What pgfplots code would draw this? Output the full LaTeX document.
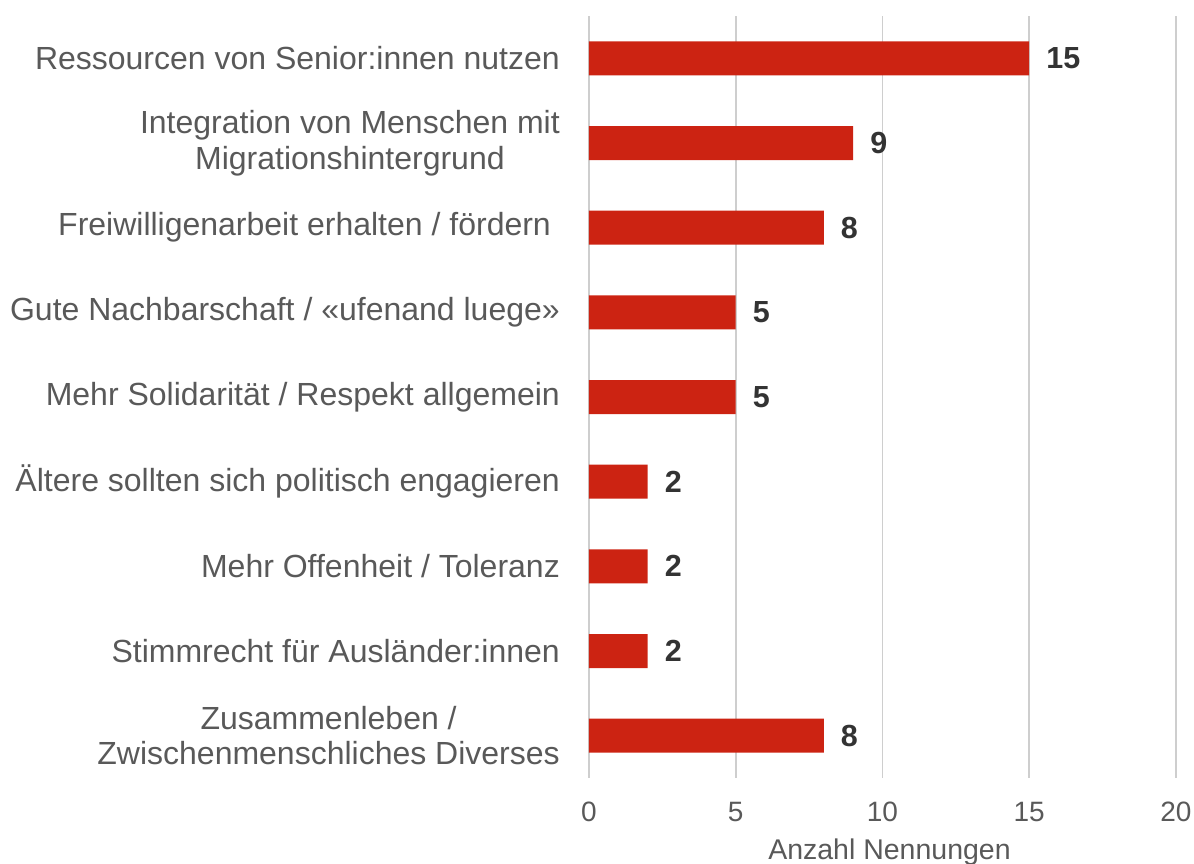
\documentclass[border=0pt]{standalone}
\usepackage{pgfplots}
\pgfplotsset{compat=1.18}
\usepackage{fontspec}
\setmainfont{Liberation Sans}
\definecolor{barred}{RGB}{204,35,18}
\definecolor{txtgray}{RGB}{89,89,89}
\definecolor{valgray}{RGB}{51,51,51}
\definecolor{gridgray}{RGB}{206,206,206}
\begin{document}
\begin{tikzpicture}
\path[use as bounding box] (-589pt,-85pt) rectangle (605pt,778pt);
\begin{axis}[
  at={(0,0)}, anchor=south west, name=ax,
  scale only axis, width=587pt, height=762pt,
  xmin=0, xmax=20, ymin=-0.5, ymax=8.5, y dir=reverse,
  xbar, bar width=34pt, bar shift=0pt,
  xtick={0,5,10,15,20}, ytick={0,...,8},
  yticklabels={
    {Ressourcen von Senior:innen nutzen},
    {Integration von Menschen mit\\Migrationshintergrund},
    {Freiwilligenarbeit erhalten / fördern\ },
    {Gute Nachbarschaft / «ufenand luege»},
    {Mehr Solidarität / Respekt allgemein},
    {Ältere sollten sich politisch engagieren},
    {Mehr Offenheit / Toleranz},
    {Stimmrecht für Ausländer:innen},
    {Zusammenleben /\\Zwischenmenschliches Diverses}},
  axis line style={draw=none},
  major tick length=0pt,
  tick style={draw=none},
  xmajorgrids, ymajorgrids=false,
  grid style={gridgray, line width=1.8pt},
  yticklabel style={align=center, inner sep=0pt, xshift=-29pt,
    font=\fontsize{32}{35.5}\selectfont, text=txtgray},
  xticklabel style={inner sep=0pt, yshift=-24pt,
    font=\fontsize{28}{34}\selectfont, text=txtgray},
  /pgf/number format/assume math mode=true,
  xlabel={Anzahl Nennungen},
  xlabel style={at={(axis description cs:0.5,0)}, anchor=north, inner sep=0pt,
    yshift=-61pt, xshift=7pt, font=\fontsize{28.5}{34}\selectfont, text=txtgray},
  nodes near coords,
  nodes near coords style={anchor=west, inner sep=0pt, xshift=17pt,
    font=\fontsize{30.5}{34}\selectfont\bfseries, text=valgray},
  clip=false,
]
\addplot[fill=barred, draw=none] coordinates {
  (15,0) (9,1) (8,2) (5,3) (5,4) (2,5) (2,6) (2,7) (8,8)};
\end{axis}
\end{tikzpicture}
\end{document}
